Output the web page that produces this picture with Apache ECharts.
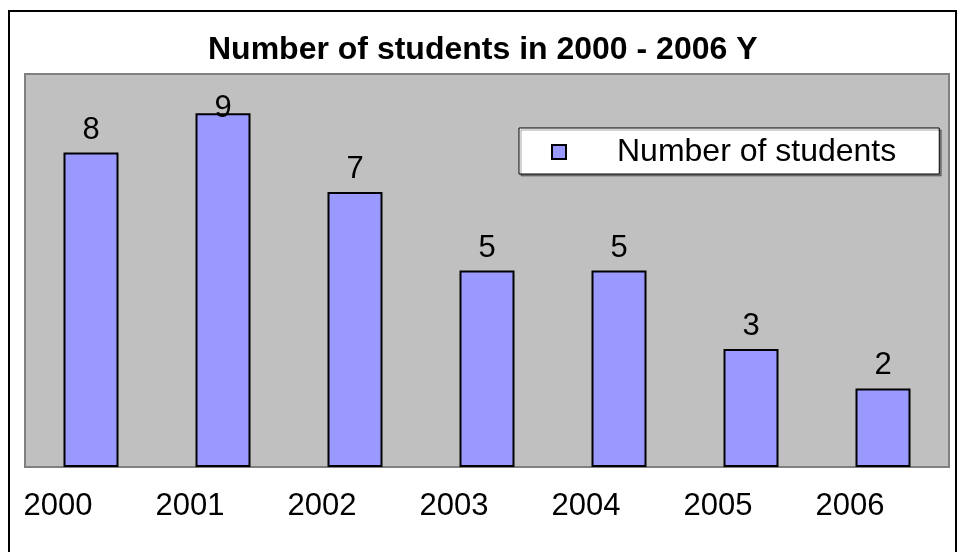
<!DOCTYPE html>
<html>
<head>
<meta charset="utf-8">
<script src="https://cdn.jsdelivr.net/npm/echarts@6/dist/echarts.min.js"></script>
<style>html,body{margin:0;padding:0;background:#fff}#c{width:957px;height:552px}</style>
</head>
<body>
<div id="c"></div>
<script>
const categories = ['2000', '2001', '2002', '2003', '2004', '2005', '2006'];
const students = [8, 9, 7, 5, 5, 3, 2];
const seriesName = 'Number of students';
const titleText = 'Number of students in 2000 - 2006 Y';

const FONT = "'Liberation Sans', Arial, sans-serif";
const chart = echarts.init(document.getElementById('c'), null, {renderer: 'canvas'});

const barData = students.map(function (v) {
  if (v === Math.max.apply(null, students)) {
    return {value: v, label: {offset: [0, 18]}};
  }
  return v;
});

chart.setOption({
  animation: false,
  backgroundColor: '#ffffff',
  title: {
    text: titleText,
    left: 203,
    top: 29,
    textStyle: {fontFamily: FONT, fontWeight: 'bold', fontSize: 32, color: '#000'}
  },
  graphic: [{
    type: 'rect',
    shape: {x: 9, y: 11, width: 947, height: 600},
    style: {fill: null, stroke: '#000', lineWidth: 2},
    silent: true,
    z: 100
  }],
  legend: {
    left: 519,
    top: 128,
    orient: 'horizontal',
    backgroundColor: '#ffffff',
    borderColor: '#000',
    borderWidth: 1,
    padding: [8, 43, 6, 32],
    itemWidth: 14,
    itemHeight: 14,
    icon: 'rect',
    shadowColor: 'rgba(0,0,0,0.35)',
    shadowOffsetX: 2,
    shadowOffsetY: 2,
    textStyle: {fontFamily: FONT, fontSize: 32, color: '#000', padding: [0, 0, 0, 46], lineHeight: 32},
    data: [seriesName]
  },
  grid: {
    left: 25, top: 74, right: 8, bottom: 85,
    show: true,
    backgroundColor: '#C0C0C0',
    borderColor: '#808080',
    borderWidth: 2
  },
  xAxis: {
    type: 'category',
    data: categories,
    axisLine: {show: false},
    axisTick: {show: false},
    splitLine: {show: false},
    axisLabel: {
      fontFamily: FONT, fontSize: 31, color: '#000',
      margin: 24,
      padding: [0, 66, 0, 0]
    }
  },
  yAxis: {
    type: 'value',
    min: 0, max: 10, interval: 1,
    show: false,
    splitLine: {show: false}
  },
  series: [{
    name: seriesName,
    type: 'bar',
    data: barData,
    barWidth: 55,
    itemStyle: {color: '#9999FF', borderColor: '#000', borderWidth: 2},
    label: {
      show: true,
      position: 'top',
      distance: 7,
      fontFamily: FONT, fontSize: 31, color: '#000'
    }
  }]
});
</script>
</body>
</html>
